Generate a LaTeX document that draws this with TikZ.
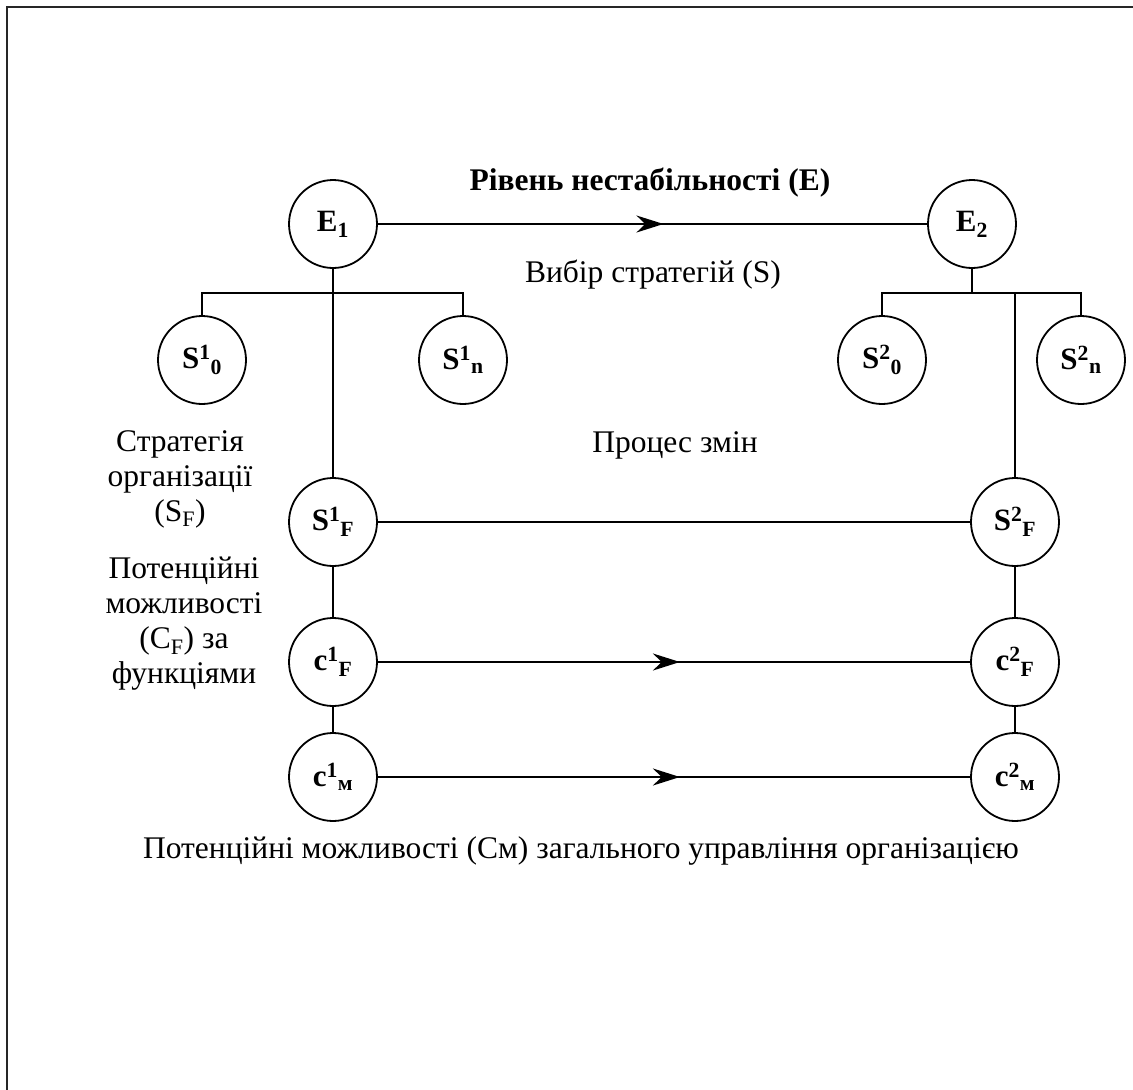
\documentclass[tikz,border=0pt]{standalone}
\usepackage{fontspec}
\setmainfont{Liberation Serif}
\usetikzlibrary{positioning,arrows.meta,decorations.markings}
\tikzset{myCircle/.style={draw, circle, line width=1.8pt, minimum size=88pt, inner sep=0pt, font=\fontsize{31}{34}\selectfont\bfseries}}
\tikzset{myLink/.style={line width=1.6pt}}
\tikzset{myArrowLine/.style={line width=2pt, postaction={decorate}, decoration={markings, mark=at position #1 with {\arrow{Stealth[length=27pt,width=17pt]}}}}}
\tikzset{myLabel/.style={font=\fontsize{31.5}{35}\selectfont, align=center}}

\begin{document}
\begin{tikzpicture}[x=1pt,y=-1pt]
	\useasboundingbox (0,0) rectangle (1133,1090);
	\draw[line width=2.5pt, black!85](7,1090)--(7,7)--(1133,7);

	% level of instability
	\node[myCircle] (E1) at (333,224) {E\textsubscript{1}};
	\node[myCircle] (E2) at (972,224) {E\textsubscript{2}};
	\node[myLabel, font=\fontsize{31.5}{35}\selectfont\bfseries] (lblE) at (650,183) {Рівень нестабільності (E)};
	\node[myLabel] (lblS) at (653,275) {Вибір стратегій (S)};

	% strategies
	\node[myCircle] (S10) at (202,360) {S\textsuperscript{1}\textsubscript{0}};
	\node[myCircle] (S1n) at (463,360) {S\textsuperscript{1}\textsubscript{n}};
	\node[myCircle] (S20) at (882,360) {S\textsuperscript{2}\textsubscript{0}};
	\node[myCircle] (S2n) at (1081,360) {S\textsuperscript{2}\textsubscript{n}};
	\coordinate (E1bus) at (333,293);
	\coordinate (E2bus) at (972,293);

	% columns
	\node[myCircle] (S1F) at (333,522) {S\textsuperscript{1}\textsubscript{F}};
	\node[myCircle] (c1F) at (333,662) {c\textsuperscript{1}\textsubscript{F}};
	\node[myCircle] (c1M) at (333,777) {c\textsuperscript{1}\textsubscript{м}};
	\node[myCircle] (S2F) at (1015,522) {S\textsuperscript{2}\textsubscript{F}};
	\node[myCircle] (c2F) at (1015,662) {c\textsuperscript{2}\textsubscript{F}};
	\node[myCircle] (c2M) at (1015,777) {c\textsuperscript{2}\textsubscript{м}};

	\node[myLabel] (lblSF) at (180,479) {Стратегія\\організації\\(S\textsubscript{F})};
	\node[myLabel] (lblCF) at (184,624) {Потенційні\\можливості\\(C\textsubscript{F}) за\\функціями};
	\node[myLabel] (lblPr) at (675,445) {Процес змін};
	\node[myLabel] (lblCM) at (581,851) {Потенційні можливості (См) загального управління організацією};

	% connectors
	\draw[myArrowLine=0.52](E1)--(E2);
	\draw[myLink](E1)--(S1F);
	\draw[myLink](S10.north) |- (E1bus) -| (S1n.north);
	\draw[myLink](E2)--(E2bus);
	\draw[myLink](S20.north) |- (E2bus) -| (S2n.north);
	\draw[myLink](S2F)--(S2F |- E2bus);
	\draw[myLink](S1F)--(S2F);
	\draw[myLink](S1F)--(c1F);
	\draw[myLink](c1F)--(c1M);
	\draw[myLink](S2F)--(c2F);
	\draw[myLink](c2F)--(c2M);
	\draw[myArrowLine=0.51](c1F)--(c2F);
	\draw[myArrowLine=0.51](c1M)--(c2M);
\end{tikzpicture}
\end{document}
